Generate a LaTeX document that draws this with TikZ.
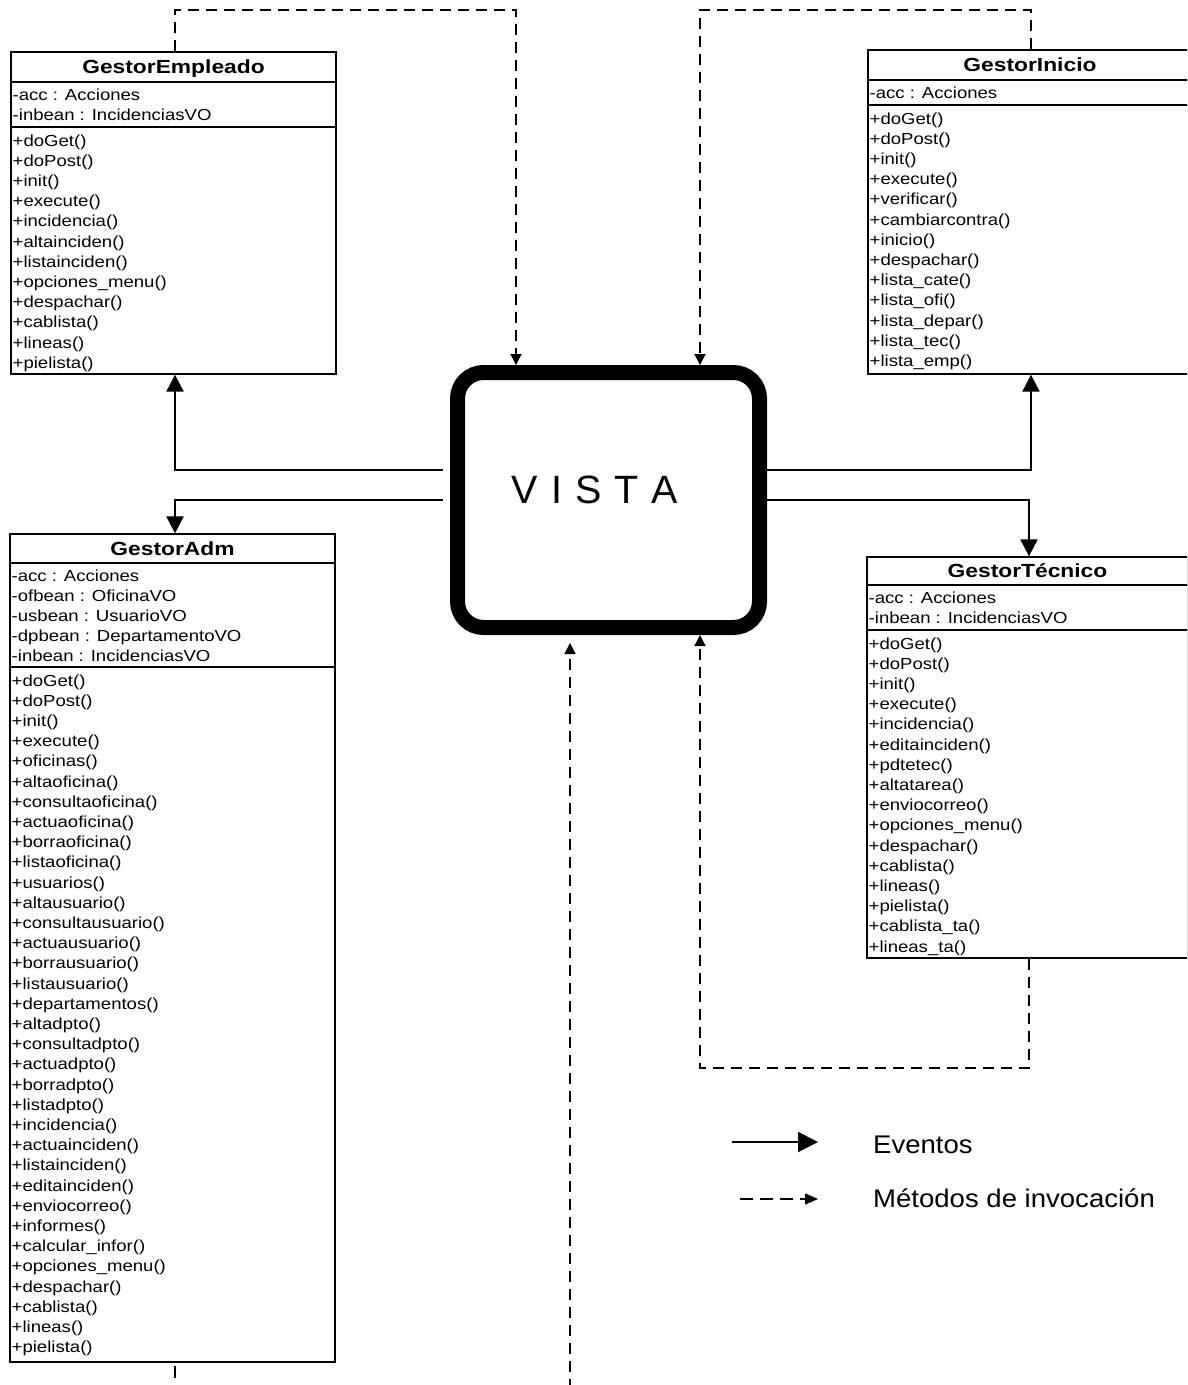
\documentclass[tikz,border=0pt]{standalone}
\usepackage{fontspec}
\setmainfont{Liberation Sans}
\newfontfamily\rowfam[FakeStretch=1.16]{Liberation Sans}
\newfontfamily\titlefam[FakeStretch=1.2]{Liberation Sans}
\newfontfamily\legendfam[FakeStretch=1.08]{Liberation Sans}
\usetikzlibrary{arrows.meta}

% one row of class members per entry, 20.2pt apart
\newcommand\umlrows[4]{%
  \foreach \t [count=\i from 0] in {#4}
    \node[row] (#1\i) at (#2,{#3+20.2*\i}) {\t};}

\tikzset{
  classbox/.style={draw, rectangle, line width=1.3pt, inner sep=0pt, fill=white},
  row/.style={anchor=base west, inner sep=0pt, font=\rowfam\fontsize{16}{20}\selectfont},
  classtitle/.style={anchor=base, inner sep=0pt, font=\titlefam\bfseries\fontsize{19}{22}\selectfont},
  rule/.style={line width=1.3pt},
  event/.style={line width=2pt, -{Triangle[length=17pt,width=17pt]}},
  invoke/.style={line width=1.5pt, dash pattern=on 11pt off 7pt, -{Triangle[length=11pt,width=11pt]}},
  vistabox/.style={draw, rectangle, line width=15pt, rounded corners=26pt,
    minimum width=302pt, minimum height=255pt, inner sep=0pt},
  legendtext/.style={anchor=base west, inner sep=0pt, font=\legendfam\fontsize{25.5}{28}\selectfont},
}

\begin{document}
\begin{tikzpicture}[x=1pt, y=-1pt]
\clip (0,0) rectangle (1187,1385);
\fill[white] (0,0) rectangle (1187,1385);

% ---------- central view ----------
\node[vistabox] (vista) at (608.5,500) {};
\node[anchor=base, inner sep=0pt, font=\fontsize{39.5}{42}\selectfont] (vistalbl) at (595,503)
  {V\kern13pt I\kern13pt S\kern13pt T\kern13pt A};

% ---------- GestorEmpleado ----------
\node[classbox, minimum width=325pt, minimum height=322pt] (emp) at (173.5,213) {};
\node[classtitle] (empT) at (173.5,73.5) {GestorEmpleado};
\draw[rule] (emp.west |- 0,82) -- (emp.east |- 0,82);
\draw[rule] (emp.west |- 0,127) -- (emp.east |- 0,127);
\umlrows{empA}{12.5}{100}{-acc : Acciones, -inbean : IncidenciasVO}
\umlrows{empM}{12.5}{146}{+doGet(), +doPost(), +init(), +execute(), +incidencia(),
  +altainciden(), +listainciden(), +opciones\_menu(), +despachar(), +cablista(),
  +lineas(), +pielista()}

% ---------- GestorInicio ----------
\node[classbox, minimum width=324pt, minimum height=324pt] (ini) at (1030,212) {};
\node[classtitle] (iniT) at (1030,71.5) {GestorInicio};
\draw[rule] (ini.west |- 0,80) -- (ini.east |- 0,80);
\draw[rule] (ini.west |- 0,105) -- (ini.east |- 0,105);
\umlrows{iniA}{869.5}{98}{-acc : Acciones}
\umlrows{iniM}{869.5}{124}{+doGet(), +doPost(), +init(), +execute(), +verificar(),
  +cambiarcontra(), +inicio(), +despachar(), +lista\_cate(), +lista\_ofi(),
  +lista\_depar(), +lista\_tec(), +lista\_emp()}

% ---------- GestorAdm ----------
\node[classbox, minimum width=325pt, minimum height=828pt] (adm) at (172.5,948) {};
\node[classtitle] (admT) at (172.5,555) {GestorAdm};
\draw[rule] (adm.west |- 0,563) -- (adm.east |- 0,563);
\draw[rule] (adm.west |- 0,667) -- (adm.east |- 0,667);
\umlrows{admA}{11.5}{581}{-acc : Acciones, -ofbean : OficinaVO, -usbean : UsuarioVO,
  -dpbean : DepartamentoVO, -inbean : IncidenciasVO}
\umlrows{admM}{11.5}{686}{+doGet(), +doPost(), +init(), +execute(), +oficinas(),
  +altaoficina(), +consultaoficina(), +actuaoficina(), +borraoficina(), +listaoficina(),
  +usuarios(), +altausuario(), +consultausuario(), +actuausuario(), +borrausuario(),
  +listausuario(), +departamentos(), +altadpto(), +consultadpto(), +actuadpto(),
  +borradpto(), +listadpto(), +incidencia(), +actuainciden(), +listainciden(),
  +editainciden(), +enviocorreo(), +informes(), +calcular\_infor(), +opciones\_menu(),
  +despachar(), +cablista(), +lineas(), +pielista()}

% ---------- GestorTécnico ----------
\node[classbox, minimum width=321pt, minimum height=401pt] (tec) at (1027.5,757.5) {};
\node[classtitle] (tecT) at (1027.5,577.5) {GestorTécnico};
\draw[rule] (tec.west |- 0,585) -- (tec.east |- 0,585);
\draw[rule] (tec.west |- 0,630) -- (tec.east |- 0,630);
\umlrows{tecA}{868.5}{603}{-acc : Acciones, -inbean : IncidenciasVO}
\umlrows{tecM}{868.5}{649}{+doGet(), +doPost(), +init(), +execute(), +incidencia(),
  +editainciden(), +pdtetec(), +altatarea(), +enviocorreo(), +opciones\_menu(),
  +despachar(), +cablista(), +lineas(), +pielista(), +cablista\_ta(), +lineas\_ta()}

% ---------- events (solid) ----------
\coordinate (wEmp) at (175,470);
\coordinate (wAdm) at (175,500);
\coordinate (wIni) at (1031,470);
\coordinate (wTec) at (1029,500);
\draw[event] ([xshift=-7pt]vista.west |- wEmp) -- (wEmp) -- (wEmp |- emp.south);
\draw[event] ([xshift=-7pt]vista.west |- wAdm) -- (wAdm) -- (wAdm |- adm.north);
\draw[event] (vista.east |- wIni) -- (wIni) -- (wIni |- ini.south);
\draw[event] (vista.east |- wTec) -- (wTec) -- (wTec |- tec.north);

% ---------- invocations (dashed) ----------
\coordinate (dEmp) at (175,10);
\coordinate (dVl) at (516,10);
\coordinate (dIni) at (1031,10);
\coordinate (dVr) at (700,10);
\coordinate (dTec) at (1029,1068);
\coordinate (dVb) at (700,1068);
\coordinate (dLow) at (570,1390);
\draw[invoke] (dEmp |- emp.north) -- (dEmp) -- (dVl) -- (dVl |- vista.north);
\draw[invoke] (dIni |- ini.north) -- (dIni) -- (dVr) -- (dVr |- vista.north);
\draw[invoke] (dTec |- tec.south) -- (dTec) -- (dVb) -- (dVb |- vista.south);
\draw[invoke] (dLow) -- ([yshift=-8pt]dLow |- vista.south);

% short stub below GestorAdm
\coordinate (stubA) at (175,1366);
\coordinate (stubB) at (175,1378);
\draw[line width=1.5pt] (stubA) -- (stubB);

% ---------- legend ----------
\coordinate (lgE1) at (732,1142);
\coordinate (lgE2) at (818,1142);
\coordinate (lgI1) at (740,1199);
\coordinate (lgI2) at (818,1199);
\draw[line width=2pt, -{Triangle[length=20pt,width=20pt]}] (lgE1) -- (lgE2);
\draw[line width=1.5pt, dash pattern=on 13pt off 7pt, -{Triangle[length=13pt,width=11pt]}] (lgI1) -- (lgI2);
\node[legendtext] (lgEt) at (873,1153) {Eventos};
\node[legendtext] (lgIt) at (873,1207) {Métodos de invocación};
\end{tikzpicture}
\end{document}
